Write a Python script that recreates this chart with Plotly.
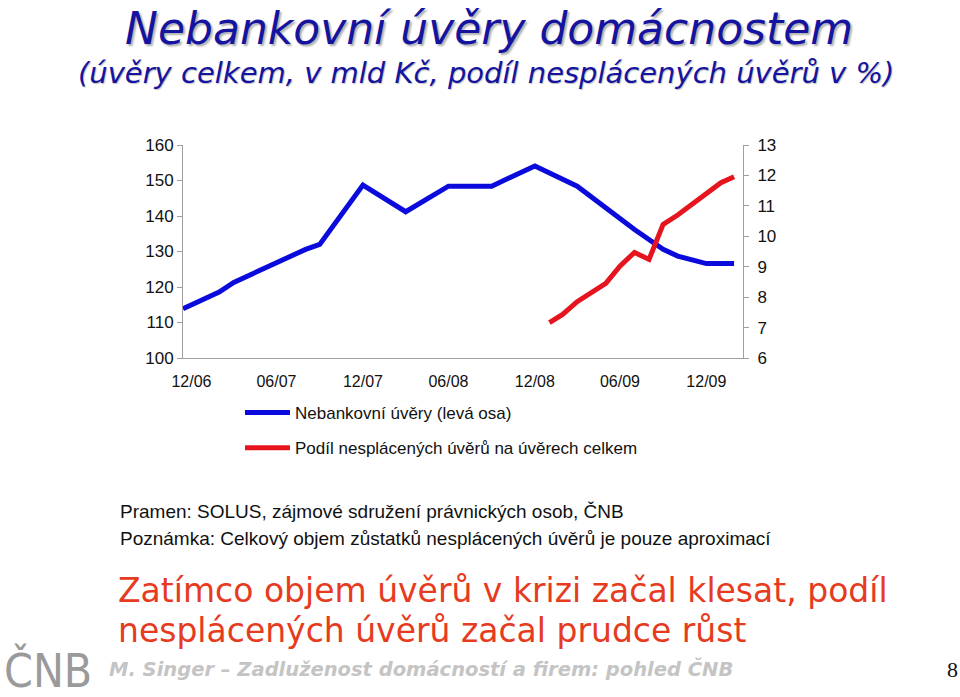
import plotly.graph_objects as go

# ---- data ----
blue_dates = ["2006-12-13", "2007-02-28", "2007-03-31", "2007-08-31", "2007-09-30",
              "2007-12-31", "2008-03-31", "2008-06-30", "2008-09-30", "2008-12-31",
              "2009-03-31", "2009-06-30", "2009-07-31", "2009-09-30", "2009-10-31",
              "2009-12-31", "2010-02-28"]
blue_values = [113.9, 118.6, 121.3, 130.6, 132.0, 148.7, 141.2, 148.4, 148.4, 154.1,
               148.4, 139.0, 136.2, 130.6, 128.7, 126.6, 126.6]

red_dates = ["2009-01-31", "2009-02-28", "2009-03-31", "2009-04-30", "2009-05-31",
             "2009-06-30", "2009-07-31", "2009-08-31", "2009-09-30", "2009-10-31",
             "2009-11-30", "2009-12-31", "2010-01-31", "2010-02-28"]
red_values = [7.16, 7.43, 7.85, 8.14, 8.45, 9.02, 9.47, 9.24, 10.39, 10.70,
              11.03, 11.41, 11.76, 11.96]

tick_dates = ["2006-12-31", "2007-06-30", "2007-12-31", "2008-06-30",
              "2008-12-31", "2009-06-30", "2009-12-31"]
tick_labels = ["12/06", "06/07", "12/07", "06/08", "12/08", "06/09", "12/09"]

blue_name = "Nebankovní úvěry (levá osa)"
red_name = "Podíl nesplácených úvěrů na úvěrech celkem"

title = "Nebankovní úvěry domácnostem"
subtitle = "(úvěry celkem, v mld Kč, podíl nesplácených úvěrů v %)"
source1 = "Pramen: SOLUS, zájmové sdružení právnických osob, ČNB"
source2 = "Poznámka: Celkový objem zůstatků nesplácených úvěrů je pouze aproximací"
message1 = "Zatímco objem úvěrů v krizi začal klesat, podíl"
message2 = "nesplácených úvěrů začal prudce růst"
footer = "M. Singer – Zadluženost domácností a firem: pohled ČNB"
page_no = "8"
logo = "ČNB"

AX = "Liberation Sans, Arial, sans-serif"
VER = "DejaVu Sans, Verdana, sans-serif"

# plot area in pixels (layout only)
L, R, T, B = 183, 743, 145, 358
W, H = 960, 697

fig = go.Figure()
fig.add_trace(go.Scatter(x=blue_dates, y=blue_values, mode="lines", name=blue_name,
                         line=dict(color="#0A0ADC", width=5), legendgroup="a",
                         yaxis="y"))
fig.add_trace(go.Scatter(x=red_dates, y=red_values, mode="lines", name=red_name,
                         line=dict(color="#E6141E", width=5), legendgroup="b",
                         yaxis="y2"))

fig.update_layout(
    width=W, height=H, autosize=False,
    margin=dict(l=L, r=W - R, t=T, b=H - B, pad=0),
    paper_bgcolor="white", plot_bgcolor="white",
    showlegend=True,
    legend=dict(x=(240 - L) / (R - L), y=-(395 - B) / (B - T),
                xanchor="left", yanchor="top", itemwidth=45,
                font=dict(family=AX, size=17, color="#111"),
                tracegroupgap=10, bgcolor="rgba(0,0,0,0)"),
    xaxis=dict(type="date", range=["2006-12-13", "2010-03-19"],
               tickvals=tick_dates, ticktext=tick_labels,
               showline=True, linecolor="#A0A0A0", linewidth=1,
               ticks="", showgrid=False, zeroline=False, ticklabelstandoff=9,
               tickfont=dict(family=AX, size=16, color="#111")),
    yaxis=dict(range=[100, 160], dtick=10, showline=True, linecolor="#A0A0A0",
               linewidth=1, ticks="outside", ticklen=5, tickcolor="#A0A0A0",
               showgrid=False, zeroline=False,
               tickfont=dict(family=AX, size=17, color="#111")),
    yaxis2=dict(range=[6, 13], dtick=1, overlaying="y", side="right",
                showline=True, linecolor="#A0A0A0", linewidth=1,
                ticks="outside", ticklen=5, tickcolor="#A0A0A0",
                showgrid=False, zeroline=False, ticklabelstandoff=5,
                tickfont=dict(family=AX, size=17, color="#111")),
)


def add_text(txt, x, y, size, color, family, xanchor="center", style=None,
             weight=None, shadow=None):
    f = dict(family=family, size=size, color=color)
    if style:
        f["style"] = style
    if weight:
        f["weight"] = weight
    if shadow:
        f["shadow"] = shadow
    fig.add_annotation(text=txt, x=(x - L) / (R - L), y=(B - y) / (B - T),
                       xref="paper", yref="paper", showarrow=False, xanchor=xanchor,
                       yanchor="middle", font=f)


add_text(title, 489, 28, 44, "#1414A0", VER, style="italic", shadow="2px 2px 2px #B0B0B0")
add_text(subtitle, 486, 73, 29, "#1414A0", VER, style="italic", shadow="1px 1px 1px #C0C0C0")
add_text(source1, 118, 511, 19, "#111", AX, xanchor="left")
add_text(source2, 118, 538, 19, "#111", AX, xanchor="left")
add_text(message1, 116, 590, 33, "#E63B1E", VER, xanchor="left")
add_text(message2, 116, 630, 33, "#E63B1E", VER, xanchor="left")
add_text(footer, 107, 669, 19.5, "#C4C4C4", VER, xanchor="left", style="italic", weight="bold")
add_text(page_no, 952, 669, 22, "#111", "Liberation Serif, Times New Roman, serif")
add_text(logo, 2, 670, 46, "#9A9A9A", "DejaVu Sans Condensed, sans-serif", xanchor="left")

fig.write_html("out.html")
